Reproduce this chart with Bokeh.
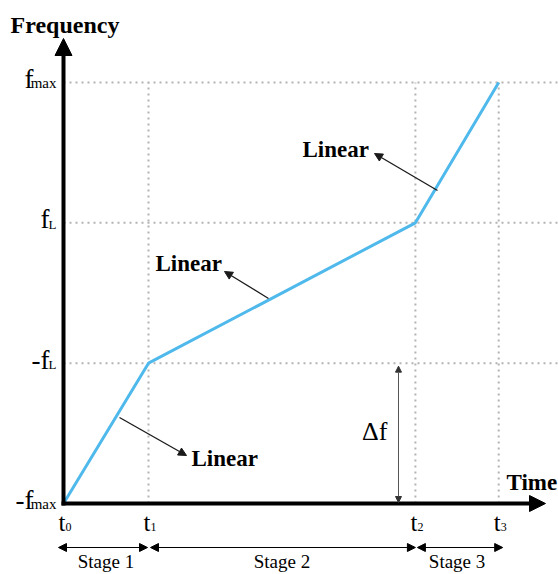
from bokeh.plotting import figure
from bokeh.models import Range1d, Arrow, NormalHead
from bokeh.core.properties import value
from bokeh.embed import file_html
from bokeh.resources import INLINE

# Stage boundaries on the time axis (t0 .. t3)
times = [0, 1, 4.14, 5.12]
time_main = ["t", "t", "t", "t"]
time_sub = ["0", "1", "2", "3"]

# Frequency levels reached at each boundary: -fmax, -fL, fL, fmax
levels = [0, 1, 2, 3]
level_main = ["-f", "-f", "f", "f"]
level_sub = ["max", "L", "L", "max"]

stage_labels = ["Stage 1", "Stage 2", "Stage 3"]

W, H = 558, 574
OX, OY = 63, 503          # origin of the diagram on the canvas
SX, SY = 85.0, 140.33     # canvas pixels per unit of time / per frequency level


def px(x):
    return (x - OX) / SX


def py(y):
    return (OY - y) / SY


def mid(baseline, size):
    """Canvas y of a text's middle, given where its baseline should sit."""
    return baseline - 0.35 * size


SERIF = value("Liberation Serif")
BLUE = "#4FB9EC"

p = figure(width=W, height=H, output_backend="svg", toolbar_location=None,
           x_range=Range1d(px(0), px(W)), y_range=Range1d(py(H), py(0)),
           min_border=0)
p.axis.visible = False
p.grid.visible = False
p.outline_line_color = None
p.background_fill_color = "white"


def label(x, baseline, txt, size, align="left", bold=False):
    p.text(x=[px(x)], y=[py(mid(baseline, size))], text=[txt], text_font=SERIF,
           text_font_style="bold" if bold else "normal", text_font_size=f"{size}px",
           text_align=align, text_baseline="middle", text_color="black")


# dotted guide lines
x_end = px(W)
p.segment(x0=[0] * 3, y0=levels[1:], x1=[x_end] * 3, y1=levels[1:],
          line_color="#b3b3b3", line_width=2, line_dash="2 4")
p.segment(x0=times[1:], y0=[0] * 3, x1=times[1:], y1=[levels[-1]] * 3,
          line_color="#b3b3b3", line_width=2, line_dash="2 4")

# frequency profile
p.line(times, levels, line_color=BLUE, line_width=3)

# main axes with arrow heads
p.add_layout(Arrow(end=NormalHead(size=17, fill_color="black", line_color="black"),
                   x_start=0, y_start=py(505), x_end=0, y_end=py(38),
                   line_width=4, line_color="black"))
p.add_layout(Arrow(end=NormalHead(size=16, fill_color="black", line_color="black"),
                   x_start=px(61), y_start=0, x_end=px(545), y_end=0,
                   line_width=4, line_color="black"))

label(10, 33, "Frequency", 24, bold=True)
label(506, 490, "Time", 23, bold=True)

# frequency level labels (main part + small subscript part)
sub_size = {"max": 15, "L": 13}
sub_w = {"max": 23, "L": 7}
for lv, m, s in zip(levels, level_main, level_sub):
    base = OY - lv * SY + 6
    label(56, base, s, sub_size[s], align="right")
    label(56 - sub_w[s], base, m, 27, align="right")

# time boundary labels
for t, m, s in zip(times, time_main, time_sub):
    xc = OX + t * SX + 2
    label(xc, 531, m, 25, align="right")
    label(xc, 531, s, 12, align="left")

# stage spans
ys = py(547)
gaps = [(-5, -1), (2, 0), (2, 4)]
for i, lab in enumerate(stage_labels):
    a, b = times[i], times[i + 1]
    g0, g1 = gaps[i]
    p.add_layout(Arrow(start=NormalHead(size=8, fill_color="black", line_color="black"),
                       end=NormalHead(size=8, fill_color="black", line_color="black"),
                       x_start=a + g0 / SX, y_start=ys, x_end=b + g1 / SX, y_end=ys,
                       line_width=1, line_color="black"))
    label(OX + (a + b) / 2 * SX, 568, lab, 19, align="center")

# delta f span between -fmax and -fL
xd = px(398)
p.add_layout(Arrow(start=NormalHead(size=6, fill_color="#333333", line_color="#333333"),
                   end=NormalHead(size=6, fill_color="#333333", line_color="#333333"),
                   x_start=xd, y_start=levels[1] - 3 / SY, x_end=xd, y_end=levels[0] + 1 / SY,
                   line_width=1, line_color="#555555"))
label(387, 440, "Δf", 26, align="right")

# "Linear" call-outs for each ramp segment
callouts = [
    ((437, 190), (374, 153), (302, 149)),
    ((268, 298), (224, 271), (155, 263)),
    ((119, 417), (186, 455), (191, 458)),
]
for (sx, sy), (ex, ey), (tx, ty) in callouts:
    p.add_layout(Arrow(end=NormalHead(size=8, fill_color="#1a1a1a", line_color="#1a1a1a"),
                       x_start=px(sx), y_start=py(sy), x_end=px(ex), y_end=py(ey),
                       line_width=1.3, line_color="#1a1a1a"))
    p.text(x=[px(tx)], y=[py(ty)], text=["Linear"], text_font=SERIF,
           text_font_style="bold", text_font_size="23px", text_align="left",
           text_baseline="middle", text_color="black")

open("out.html", "w").write(file_html(p, INLINE))
